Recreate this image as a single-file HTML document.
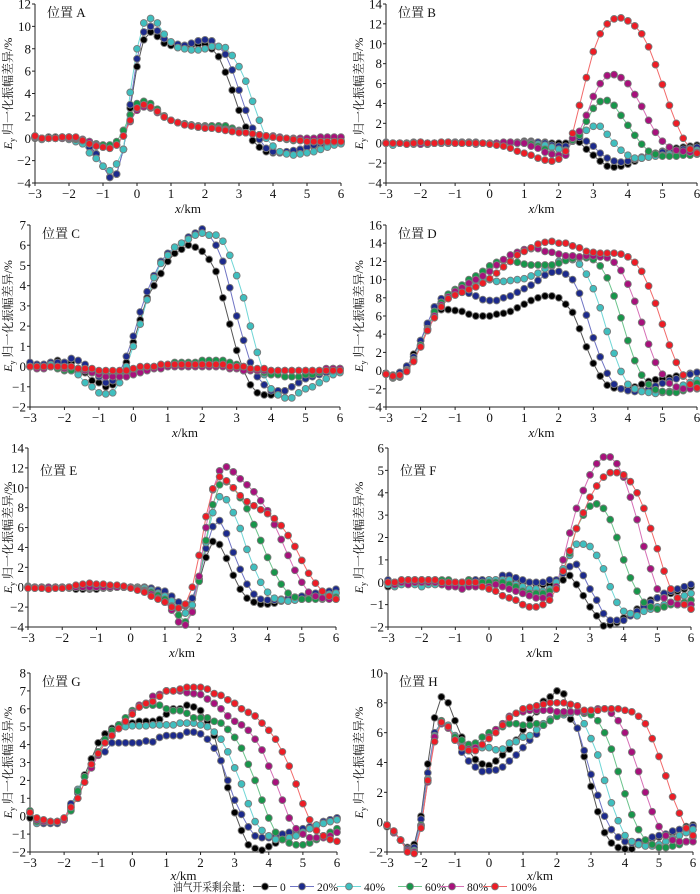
<!DOCTYPE html>
<html><head><meta charset="utf-8">
<style>
html,body{margin:0;padding:0;background:#fff;}
svg{display:block;font-family:"Liberation Serif","Noto Serif CJK SC","Noto Sans CJK SC",serif;}
</style></head>
<body>
<svg id="chart" width="700" height="894" viewBox="0 0 700 894" xmlns="http://www.w3.org/2000/svg"></svg>
<script>
// x positions in km (-3 to 6 step 0.2)
const xTickLabels = [-3,-2,-1,0,1,2,3,4,5,6];
const seriesNames = ["0","20%","40%","60%","80%","100%"];
const xCount = 46;
const xStart = -3, xStep = 0.2;

const aBlack=[0,0,0.1,0.1,0.1,0.1,0,-0.2,-0.6,-1.4,-2.5,-3.5,-3.2,-1,2.7,6.4,8.8,9.5,9.1,8.5,8.3,8.3,8.2,8.3,8.4,8.4,8,7.3,5.9,4.3,2.5,1,-0.2,-0.8,-1.2,-1.3,-1.3,-1.3,-1.2,-1,-0.8,-0.7,-0.6,-0.5,-0.4,-0.3];
const aNavy=[0.1,0,0,0,0.1,0.1,0,-0.3,-0.8,-1.4,-2.5,-3.5,-3.2,-1,3,7.1,9.5,10,9.6,8.9,8.6,8.4,8.3,8.5,8.7,8.8,8.7,8.2,7.5,6.1,4.3,2.5,0.9,-0.1,-0.9,-1.2,-1.3,-1.2,-1.1,-1,-0.8,-0.6,-0.5,-0.4,-0.3,-0.3];
const aCyan=[0.1,-0.1,0,0,0,-0.1,-0.3,-0.5,-1.3,-1.8,-2.5,-2.9,-2.3,-1,4.1,8,10.3,10.7,10.3,9.3,8.6,8.1,8,7.9,7.9,8,8.2,8.2,8.1,7.4,6.4,5.1,3.3,1.6,0,-0.7,-1.2,-1.4,-1.5,-1.4,-1.3,-1.2,-1,-0.8,-0.6,-0.5];
const aGreen=[0.2,0,0,0,0,0,-0.1,-0.2,-0.3,-0.5,-0.6,-0.6,-0.3,0.7,2.1,3.1,3.3,3.1,2.6,2,1.6,1.4,1.3,1.2,1.1,1.1,1.1,1.1,1.1,0.9,0.7,0.5,0.4,0.3,0.2,0.1,0,-0.1,-0.2,-0.2,-0.3,-0.3,-0.3,-0.3,-0.3,-0.2];
const aMagenta=[0.1,0,0,0,0,0,0,-0.1,-0.3,-0.6,-0.8,-0.9,-0.6,0.2,1.5,2.5,2.8,2.7,2.3,1.9,1.6,1.4,1.2,1.1,1,1,0.9,0.9,0.8,0.7,0.6,0.5,0.4,0.3,0.2,0.2,0.1,0,0,0,0,0,0.1,0.1,0.1,0.1];
const aRed=[0.2,0,0,0,0.1,0.1,0.1,-0.2,-0.5,-0.7,-0.8,-0.9,-0.6,0.2,1.6,2.7,3,2.8,2.4,1.9,1.6,1.4,1.2,1.1,1,0.9,0.9,0.8,0.7,0.6,0.5,0.5,0.4,0.3,0.2,0.1,0,0,-0.1,-0.2,-0.3,-0.3,-0.3,-0.3,-0.3,-0.3];

const bBlack=[0,0,0,0,0.1,0.1,0,0,0,0.1,0.1,0.1,0.1,0,0,0,0,0,0.1,0.1,0.2,0.2,0.1,0.1,0,0,0,0.2,0.1,-0.6,-1.2,-1.8,-2.3,-2.4,-2.3,-2.1,-1.8,-1.5,-1.2,-1,-0.8,-0.6,-0.5,-0.4,-0.3,-0.2];
const bNavy=[0.1,0,0,0,0,0.1,0,0,0.1,0.1,0.1,0.1,0.1,0.1,0,0,0,0,0,0,0.1,0.1,0.1,0,-0.2,-0.3,-0.3,0.3,0.6,0.2,-0.3,-1,-1.5,-1.8,-1.9,-1.8,-1.6,-1.4,-1.2,-1.1,-0.9,-0.8,-0.7,-0.6,-0.5,-0.4];
const bCyan=[0,-0.2,0,0,-0.1,-0.1,-0.1,0,0,0,0,0,0,0,0,-0.1,0,0,0,0,0,0,-0.1,-0.2,-0.4,-0.6,-0.7,0.2,0.9,1.3,1.7,1.7,0.9,0,-0.7,-1.2,-1.5,-1.5,-1.4,-1.3,-1.2,-1.1,-1,-0.9,-0.8,-0.7];
const bGreen=[0,0,0,0,0,0,-0.1,0,0,0,0,0,0,0,0,0,0,0,0,0,0,-0.1,-0.3,-0.6,-1,-1.2,-1.1,0.3,0.8,2.2,3.5,4.2,4.3,3.8,2.8,1.8,0.8,-0.1,-0.8,-1.1,-1.3,-1.3,-1.3,-1.2,-1.2,-1.1];
const bMagenta=[0,0,0,-0.1,0,-0.1,0,0,0,0,0,0,0,-0.1,0,0,0,0.1,0.1,0,0,-0.3,-0.5,-0.9,-1.1,-1.2,-1.2,0.5,1.2,2.8,4.7,6,6.8,6.9,6.6,6,4.9,3.7,2.3,1.1,0.2,-0.4,-0.7,-0.8,-0.9,-0.9];
const bRed=[0,0,0,-0.1,0,0.1,0,0,0.1,0.1,0,0,0,0,0,-0.1,-0.2,-0.3,-0.5,-0.8,-1,-1.2,-1.5,-1.7,-1.8,-1.6,-0.8,1,3.8,6.6,9.2,11,12,12.5,12.6,12.3,11.8,11,9.7,7.9,5.9,3.8,2,0.5,-0.6,-1];

const cBlack=[0.1,0.1,0.1,0.2,0.3,0.2,0.2,-0.2,-0.3,-0.7,-0.8,-1,-0.9,-0.5,0.2,1.2,2.3,3.4,4,4.6,5.2,5.6,5.8,6,5.9,5.7,5.3,4.7,3.4,2.1,0.8,-0.2,-0.9,-1.3,-1.4,-1.4,-1.3,-1.2,-1,-0.8,-0.6,-0.4,-0.3,-0.2,-0.1,-0.1];
const cNavy=[0.2,0.1,0.1,0.2,0.2,0.2,0.4,0.3,0.1,-0.3,-0.5,-0.8,-0.7,-0.3,0.5,1.5,2.7,3.7,4.5,5.2,5.6,5.9,6.1,6.4,6.6,6.8,6.5,6,5.2,3.9,2.5,1.3,0.2,-0.5,-0.9,-1.2,-1.2,-1.2,-1,-0.8,-0.6,-0.5,-0.4,-0.3,-0.2,-0.2];
const cCyan=[0,0,0,0.1,0,-0.1,-0.2,-0.4,-0.8,-1,-1.3,-1.35,-1.3,-0.8,0,1,2.1,3.3,4.4,5.1,5.5,5.9,6.1,6.3,6.5,6.6,6.5,6.5,6.2,5.5,4.5,3.4,2,0.7,-0.4,-1.1,-1.4,-1.55,-1.55,-1.3,-1.1,-1,-0.8,-0.6,-0.4,-0.3];
const cGreen=[0,0,0,0,-0.1,-0.2,-0.2,-0.1,-0.2,-0.3,-0.3,-0.4,-0.4,-0.4,-0.3,-0.2,-0.1,0,0,0.1,0.1,0.2,0.2,0.2,0.2,0.3,0.3,0.3,0.3,0.2,0.1,0,-0.1,-0.2,-0.3,-0.4,-0.4,-0.5,-0.5,-0.5,-0.4,-0.4,-0.3,-0.2,-0.2,-0.1];
const cMagenta=[0,-0.1,-0.1,0,0,-0.1,0,-0.1,-0.2,-0.3,-0.4,-0.5,-0.5,-0.5,-0.5,-0.4,-0.3,-0.2,-0.1,-0.1,0,0,0,0,0,0,0,0,0,-0.1,-0.1,-0.2,-0.2,-0.2,-0.2,-0.2,-0.2,-0.2,-0.2,-0.2,-0.2,-0.2,-0.2,-0.1,-0.1,-0.1];
const cRed=[0,0,0,0,0,0,0,-0.1,-0.1,-0.1,-0.2,-0.2,-0.2,-0.2,-0.2,-0.1,0,0,0,0.1,0.1,0.1,0.1,0.1,0.1,0.1,0.1,0.1,0.1,0,0,0,-0.1,-0.1,-0.1,-0.2,-0.2,-0.2,-0.2,-0.2,-0.2,-0.2,-0.2,-0.2,-0.2,-0.2];

const dBlack=[-0.3,-0.5,-0.4,0.3,1.8,3.3,5,6.2,6.7,6.7,6.6,6.5,6.2,6,6,6,6.2,6.3,6.5,6.9,7.3,7.7,8,8.2,8.2,8,7.3,6.4,4.6,2.6,0.8,-0.6,-1.6,-1.9,-2,-1.9,-1.8,-1.5,-1.2,-1,-0.9,-0.8,-0.6,-0.5,-0.3,-0.2];
const dNavy=[-0.3,-0.6,-0.2,0.5,1.5,3.3,5.2,7,7.9,8.3,8.6,8.6,8.5,8.2,7.8,7.7,7.7,8,8.2,8.6,9,9.4,9.9,10.5,10.8,10.9,10.6,10,8.5,6.1,3.6,1.5,-0.3,-1.5,-2,-2.2,-2.3,-2.2,-2,-1.7,-1.4,-1.1,-0.9,-0.6,-0.4,-0.2];
const dCyan=[-0.4,-0.8,-0.7,0.1,1.2,2.8,4.6,6.4,7.5,8.3,8.9,9.2,9.5,9.8,9.9,10,9.8,9.8,9.9,10,10.1,10.4,10.7,11.2,11.5,12,12.2,12.2,11.7,10.6,9,6.9,4.3,1.9,-0.1,-1.5,-2,-2.3,-2.4,-2.5,-2.4,-2.3,-2,-1.6,-1.3,-1];
const dGreen=[-0.4,-0.8,-0.7,0,1.2,2.8,4.6,6.5,7.5,8.4,8.9,9.4,10,10.4,10.9,11.5,11.9,12.1,12,11.9,11.7,11.6,11.6,11.6,11.6,11.8,12.1,12.3,12.4,12.4,12.2,11.5,10.2,8.2,5.8,3.3,1.1,-0.5,-1.5,-2.1,-2.3,-2.4,-2.4,-2.2,-1.9,-1.4];
const dMagenta=[-0.4,-0.7,-0.6,0,1.1,2.6,4.5,6,7.2,8.1,8.7,9.1,9.6,10,10.4,10.9,11.6,12.2,12.7,13,13.3,13.4,13.4,13.1,13,12.8,12.6,12.6,12.5,12.6,12.6,12.5,12.4,11.9,11,9.5,7.6,5.3,2.9,0.9,-0.4,-1.4,-1.8,-2,-2,-2];
const dRed=[-0.4,-0.6,-0.5,-0.1,1,2.6,4.4,5.8,7,7.9,8.3,8.6,8.9,9.2,9.6,10.1,10.7,11.4,12,12.7,13.1,13.5,13.9,14.1,14.2,14,14,13.7,13.5,13.1,13,12.9,12.9,12.9,12.8,12.5,11.9,10.9,9.3,7.4,5.1,2.8,0.9,-0.5,-1.5,-1.9];

const eBlack=[0,-0.1,-0.1,-0.1,-0.1,-0.1,-0.1,-0.2,-0.2,-0.2,-0.2,-0.1,-0.1,0,0,0,0,0,-0.1,-0.3,-0.5,-0.9,-1.5,-1.9,-1.2,0.6,3,4.6,4.3,2.9,1.2,-0.2,-1.1,-1.5,-1.7,-1.7,-1.6,-1.4,-1.2,-1,-0.9,-0.8,-0.7,-0.6,-0.5,-0.5];
const eNavy=[0,0,0,0,0,0,0,0,0,-0.1,0,0,0,0,0,0,0,0,-0.1,-0.3,-0.4,-0.9,-1.5,-1.8,-1.1,0.8,3.9,6.1,6.7,5.4,3.5,1.8,0.3,-0.7,-1.2,-1.3,-1.3,-1.2,-1.1,-1,-0.9,-0.8,-0.6,-0.5,-0.4,-0.2];
const eCyan=[0,0,0,-0.1,0,0,0,0,0,0,0,0,0,0,0,0,0,-0.1,-0.3,-0.6,-0.9,-1.4,-2.1,-2.6,-1.8,0.8,4.5,7.5,9.1,8.8,7.5,5.9,3.8,2,0.5,-0.5,-1.1,-1.3,-1.4,-1.3,-1.2,-1.1,-1,-0.9,-0.7,-0.6];
const eGreen=[0.1,0,0,-0.1,0,0,0,0,0.1,0.1,0,0,0,0,0,0,-0.1,-0.3,-0.5,-0.8,-1.2,-1.9,-2.8,-3.5,-2.4,0.6,4.7,8.3,10.3,10.6,10,9,7.9,6.3,4.7,3,1.5,0.3,-0.6,-1,-1.2,-1.2,-1.2,-1.2,-1.1,-1];
const eMagenta=[0,0,0,0,0,0,0,0,0,0,0,0,0,0,0,0,-0.2,-0.4,-0.7,-1.1,-1.5,-2.3,-3.5,-3.8,-2.5,1.1,6,9.8,11.7,12.1,11.6,10.9,10.3,9.6,8.7,7.7,6.3,4.8,3.2,1.7,0.5,-0.5,-0.9,-1.1,-1.2,-1.2];
const eRed=[-0.1,-0.1,-0.1,-0.2,-0.1,-0.1,0,0.2,0.3,0.4,0.3,0.3,0.2,0.2,0.1,-0.1,-0.3,-0.5,-0.9,-1.2,-1.5,-2,-2.1,-1.7,0,3.2,7.1,9.9,11.1,10.7,10,9.2,8.6,8.2,7.8,7.4,6.9,6.2,5.2,4.1,2.7,1.4,0.4,-0.4,-0.9,-1.2];

const fBlack=[-0.2,0,0,0.1,0.1,0.1,0.1,0.1,0,0,0,0,0,0.1,0.1,0.1,0.1,0.1,0.1,0.1,0,0,-0.1,-0.1,-0.1,0,0.1,0.3,-0.1,-0.6,-1.1,-1.5,-1.95,-1.9,-1.8,-1.6,-1.4,-1.2,-1,-0.8,-0.7,-0.6,-0.5,-0.4,-0.3,-0.2];
const fNavy=[0.1,0,0.1,0.1,0.1,0.1,0.1,0,0,0,0,0,0.1,0.1,0.1,0.1,0.1,0.3,0.3,0.2,0.1,0,0,0,0.1,0.1,0.4,0.7,0.8,0.3,-0.3,-0.8,-1.4,-1.7,-1.7,-1.7,-1.5,-1.3,-1.1,-0.9,-0.7,-0.5,-0.4,-0.3,-0.2,-0.1];
const fCyan=[-0.1,-0.2,-0.1,0,-0.1,-0.2,-0.1,-0.1,-0.1,-0.1,-0.1,-0.1,0,0,0,0.1,0.1,0.1,0.1,-0.1,-0.2,-0.3,-0.3,-0.4,-0.3,0,0.6,1.2,1.7,1.7,1.6,1.2,0.6,-0.2,-0.9,-1.3,-1.4,-1.5,-1.3,-1.2,-1.1,-1,-0.9,-0.7,-0.6,-0.5];
const fGreen=[0,0,0,0.1,0.1,0.1,0.1,0.1,0.1,0.1,0,0,0.1,0,0,0,0,0,-0.1,-0.2,-0.4,-0.5,-0.5,-0.5,-0.4,-0.2,0.5,1.3,2.4,3,3.4,3.5,3.3,2.8,2,1,0.2,-0.4,-0.9,-1.1,-1.2,-1.1,-1,-1,-0.9,-0.8];
const fMagenta=[0,-0.1,0,-0.1,0,0,0,0,-0.1,-0.2,-0.2,-0.3,-0.2,-0.2,-0.2,-0.2,-0.1,-0.2,-0.3,-0.4,-0.5,-0.6,-0.7,-0.7,-0.6,-0.2,1,2.2,3.3,4.1,4.8,5.3,5.6,5.6,5.3,4.7,3.8,2.8,1.6,0.6,-0.3,-0.7,-0.9,-1,-1,-1];
const fRed=[0,0,0.1,0.1,0.1,0.1,0.1,0.1,0,0,0,0,0,0,-0.2,-0.3,-0.4,-0.6,-0.7,-0.8,-1,-1.1,-1.1,-1,-0.8,-0.3,0.5,1.4,2.4,3.1,3.8,4.3,4.7,4.9,4.9,4.8,4.5,4,3.3,2.4,1.5,0.5,-0.3,-0.7,-1,-1.2];

const gBlack=[-0.1,-0.2,-0.3,-0.3,-0.3,-0.2,0.6,1.4,2.3,3.2,4.1,4.6,4.9,5.1,5.2,5.2,5.3,5.3,5.3,5.4,5.7,6,6,6.2,6.1,5.9,5.3,4.5,3.1,1.6,0.2,-0.8,-1.6,-1.8,-1.9,-1.7,-1.5,-1.3,-1.1,-0.9,-0.8,-0.7,-0.5,-0.3,-0.2,-0.1];
const gNavy=[0.2,-0.3,-0.4,-0.4,-0.4,-0.2,0.7,1.3,2.2,2.9,3.4,3.6,4.1,4.1,4.1,4.1,4.1,4.2,4.15,4.4,4.5,4.5,4.5,4.7,4.7,4.6,4.3,3.8,3.1,2,0.9,0.1,-0.6,-1.1,-1.2,-1.2,-1.1,-1,-0.9,-0.8,-0.7,-0.6,-0.5,-0.3,-0.2,-0.1];
const gCyan=[0.2,-0.4,-0.3,-0.3,-0.3,-0.2,0.4,1.5,2.2,2.9,3.6,4.2,4.6,4.9,5,5.05,5.05,5.05,5.1,5.1,5.1,5.1,5.2,5.2,5.2,5.1,5,4.7,4.3,3.6,2.7,1.8,0.7,-0.3,-0.8,-1.1,-1.3,-1.3,-1.2,-1.1,-0.9,-0.7,-0.5,-0.4,-0.3,-0.2];
const gGreen=[0.3,-0.3,-0.3,-0.3,-0.3,-0.2,0.3,1.4,2.2,2.9,3.6,4.3,4.8,5.1,5.5,5.9,6.1,6.2,6.2,6.2,6,5.9,5.9,5.75,5.5,5.5,5.5,5.3,5.2,4.85,4.4,3.8,2.9,2,0.9,-0.1,-0.9,-1.3,-1.5,-1.6,-1.6,-1.5,-1.3,-1.1,-0.9,-0.7];
const gMagenta=[0.2,-0.2,-0.3,-0.3,-0.3,-0.2,0.5,1,1.9,2.7,3.4,4.1,4.5,4.9,5.3,5.8,6.2,6.3,6.7,6.8,7,7,7,6.9,6.85,6.8,6.55,6.3,6,5.6,5.3,5.1,4.8,4.3,3.7,2.8,1.9,0.9,-0.1,-0.7,-1,-1.2,-1.2,-1.2,-1.1,-0.9];
const gRed=[0.2,-0.1,-0.2,-0.3,-0.3,-0.1,0.5,1,1.9,2.9,3.5,4.1,4.5,4.9,5.3,5.7,6.1,6.3,6.4,6.7,7,7,7.1,7.2,7.2,7.2,7.1,6.85,6.75,6.5,6.3,6,5.8,5.6,5.2,4.8,4.3,3.6,2.8,1.8,0.7,-0.2,-0.8,-1.1,-1.3,-1.4];

const hBlack=[-0.3,-0.6,-1.2,-1.7,-1.5,0.4,3.9,7,8.4,8,6.8,5.7,4.8,4.2,3.9,3.8,4.1,4.5,4.9,5.5,6.2,6.9,7.4,8.1,8.4,8.8,8.6,6.9,6.3,4.4,2.4,0.7,-0.7,-1.4,-1.7,-1.8,-1.8,-1.5,-1.3,-1.1,-1,-0.9,-0.7,-0.5,-0.3,-0.2];
const hNavy=[-0.2,-0.7,-1.2,-1.8,-1.7,0.2,3.3,6,6.7,6.4,5.6,4.7,4.1,3.7,3.4,3.45,3.5,3.7,4.1,4.5,5,5.5,5.9,6.5,6.9,7.2,7.3,7.3,6.3,4.8,3.2,1.8,0.4,-0.5,-1,-1.3,-1.4,-1.3,-1.2,-1,-0.9,-0.8,-0.6,-0.5,-0.4,-0.3];
const hCyan=[-0.2,-0.7,-1.2,-1.9,-1.9,-0.2,2.9,5.8,6.6,6.5,5.8,5.4,5.2,5.1,5,5,4.85,4.9,5.3,5.4,5.7,5.8,6.2,6.6,6.9,7.1,7.2,7.3,7.4,6.6,5.6,4.5,2.8,1.3,0.1,-0.9,-1.3,-1.5,-1.6,-1.6,-1.5,-1.3,-1.1,-0.9,-0.7,-0.5];
const hGreen=[-0.2,-0.7,-1.2,-1.9,-2,-0.2,2.8,5.7,6.8,6.4,5.7,5.5,5.2,5.3,5.7,6,6.2,6.4,6.6,6.6,6.5,6.5,6.6,6.5,6.8,7.1,7.3,7.4,7.4,7.3,7.2,6.8,6,4.9,3.4,1.9,0.5,-0.5,-1.2,-1.5,-1.7,-1.7,-1.6,-1.5,-1.3,-1];
const hMagenta=[-0.2,-0.7,-1.2,-1.9,-2,-0.3,2.7,5.7,6.6,6.3,5.5,5,4.9,5,5.2,5.7,6.2,6.6,7.1,7.3,7.4,7.5,7.5,7.5,7.5,7.4,7.4,7.4,7.4,7.4,7.5,7.6,7.6,7.3,6.8,6,4.7,3.4,2,0.7,-0.3,-0.9,-1.2,-1.3,-1.3,-1.3];
const hRed=[-0.2,-0.6,-1.2,-2,-2.1,-0.4,2.8,5.4,6.7,6.4,5.5,5,4.8,4.8,5.2,5.6,6,6.5,7,7.3,7.6,7.7,7.8,7.9,8,8,8,7.9,7.8,7.5,7.5,7.5,7.6,7.6,7.6,7.5,7.4,7.1,6.6,5.6,4.4,3.1,1.7,0.6,-0.4,-0.9];

const panelLabels = ["A","B","C","D","E","F","G","H"];
const yMins = [-4,-4,-2,-4,-4,-2,-2,-2];
const yMaxs = [12,14,7,16,14,6,8,10];
const ySteps = [2,2,1,2,2,1,1,2];
const panelSeries = [
 [aBlack,aNavy,aCyan,aGreen,aMagenta,aRed],
 [bBlack,bNavy,bCyan,bGreen,bMagenta,bRed],
 [cBlack,cNavy,cCyan,cGreen,cMagenta,cRed],
 [dBlack,dNavy,dCyan,dGreen,dMagenta,dRed],
 [eBlack,eNavy,eCyan,eGreen,eMagenta,eRed],
 [fBlack,fNavy,fCyan,fGreen,fMagenta,fRed],
 [gBlack,gNavy,gCyan,gGreen,gMagenta,gRed],
 [hBlack,hNavy,hCyan,hGreen,hMagenta,hRed]
];

// layout (not data)
const boxes = [
 {l:35,r:341,t:4,b:183},{l:386,r:697,t:4,b:183},
 {l:30,r:340,t:225,b:407},{l:386,r:697,t:225,b:407},
 {l:28,r:336,t:448,b:627},{l:388,r:691,t:448,b:627},
 {l:30,r:337,t:673,b:852},{l:387,r:693,t:673,b:852}
];
const fills = ["#000000","#1c2a8c","#3fbfbf","#17964a","#a8107c","#ee1c25"];
const lineCols = ["#555555","#6f74c4","#6fd6d6","#6cc48c","#d66fb6","#f26a6a"];

const NS = "http://www.w3.org/2000/svg";
const svg = document.getElementById('chart');
function mk(tag, attrs, parent){
  const e = document.createElementNS(NS, tag);
  for (const k in attrs) e.setAttribute(k, attrs[k]);
  (parent||svg).appendChild(e);
  return e;
}
function fmt(v){ return v<0 ? "\u2212"+Math.abs(v) : String(v); }

panelSeries.forEach((series, p) => {
  const bx = boxes[p];
  const yMin = yMins[p], yMax = yMaxs[p];
  const xs = v => bx.l + (v - (-3)) / 9 * (bx.r - bx.l);
  const ys = v => bx.b - (v - yMin) / (yMax - yMin) * (bx.b - bx.t);
  const g = mk('g', {});
  
  

  const ax = mk('path', {d:`M${bx.l},${bx.t}V${bx.b}H${bx.r}`, fill:'none', stroke:'#222', 'stroke-width':1}, g);
  
  
  for (let v = yMin; v <= yMax + 1e-9; v += ySteps[p]) {
    const y = ys(v);
    const tk = mk('line', {x1:bx.l-3, x2:bx.l, y1:y, y2:y, stroke:'#222'}, g);
    
    
    const t = mk('text', {x:bx.l-4, y:y+4.5, 'text-anchor':'end', 'font-size':13, fill:'#111'}, g);
    t.textContent = fmt(v);
    
    
  }
  xTickLabels.forEach(v => {
    const x = xs(v);
    const tk = mk('line', {x1:x, x2:x, y1:bx.b, y2:bx.b+3, stroke:'#222'}, g);
    
    
    const t = mk('text', {x:x, y:bx.b+15, 'text-anchor':'middle', 'font-size':13, fill:'#111'}, g);
    t.textContent = fmt(v);
    
    
  });
  const xt = mk('text', {x:(bx.l+bx.r)/2, y:bx.b+(p>=6 ? 28 : 30), 'text-anchor':'middle', 'font-size':13, fill:'#111'}, g);
  xt.innerHTML = '<tspan font-style="italic">x</tspan>/km';
  
  
  const cx = (p % 2 === 0) ? 12 : 363, cy = (bx.t + bx.b)/2;
  const yt = mk('text', {x:cx, y:cy, 'text-anchor':'middle', 'font-size':12, fill:'#111', transform:`rotate(-90 ${cx} ${cy})`}, g);
  yt.innerHTML = '<tspan font-style="italic">E</tspan><tspan font-size="8" dy="3">y</tspan><tspan dy="-3"> 归一化振幅差异/%</tspan>';
  
  
  const pl = mk('text', {x:bx.l+12, y:bx.t + (p>=4 && p<6 ? 27 : 13), 'font-size':13, fill:'#111'}, g);
  pl.textContent = '位置 ' + panelLabels[p];
  
  

  series.forEach((vals, s) => {
    let d = '';
    vals.forEach((v, i) => { d += (i ? 'L' : 'M') + xs(xStart + i*xStep).toFixed(1) + ',' + ys(v).toFixed(1); });
    const ln = mk('path', {d:d, fill:'none', stroke:lineCols[s], 'stroke-width':1}, g);
    
    
  });
  series.forEach((vals, s) => {
    vals.forEach((v, i) => {
      const c = mk('circle', {cx:xs(xStart + i*xStep).toFixed(1), cy:ys(v).toFixed(1), r:3.4, fill:fills[s], stroke:'#7a7a7a', 'stroke-width':0.9}, g);
      
      
    });
  });
});

// legend
const lg = mk('g', {});


const lt = mk('text', {x:173, y:891, 'font-size':11.5, fill:'#111', textLength:78, lengthAdjust:'spacingAndGlyphs'}, lg);
lt.textContent = '油气开采剩余量：';


const legendX = [253, 290, 337, 398, 440, 483];
seriesNames.forEach((nm, s) => {
  const x0 = legendX[s];
  const l = mk('line', {x1:x0, x2:x0+24, y1:886.5, y2:886.5, stroke:lineCols[s], 'stroke-width':1}, lg);
  
  
  const c = mk('circle', {cx:x0+12, cy:886.5, r:3.4, fill:fills[s], stroke:'#7a7a7a', 'stroke-width':0.9}, lg);
  
  
  const t = mk('text', {x:x0+27, y:891, 'font-size':11.5, fill:'#111'}, lg);
  t.textContent = nm;
  
  
});
</script>
</body></html>
